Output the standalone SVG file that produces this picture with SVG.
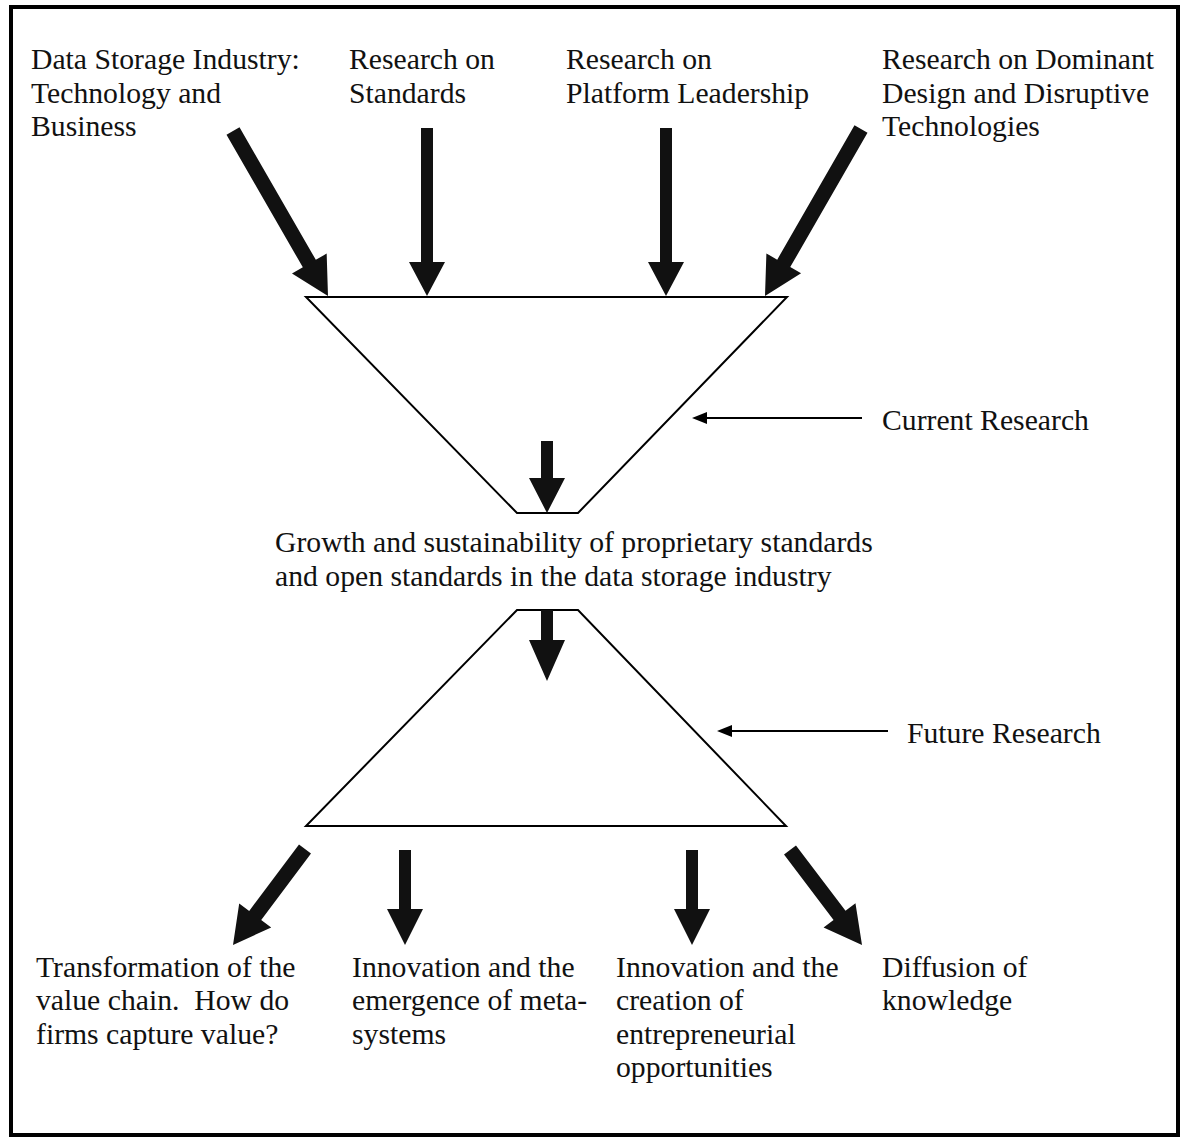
<svg xmlns="http://www.w3.org/2000/svg" width="1183" height="1139" viewBox="0 0 1183 1139">
  <style>
    .frame { fill: #ffffff; stroke: #000000; stroke-width: 4; }
    .funnel { fill: #ffffff; stroke: #000000; stroke-width: 2; stroke-linejoin: miter; }
    .big { fill: #111111; }
    .thin { stroke: #000000; stroke-width: 2; fill: none; }
    .head { fill: #000000; }
    text { font-family: "Liberation Serif", "Times New Roman", serif; font-size: 29.7px; fill: #111111; }
  </style>

  <!-- outer frame -->
  <rect class="frame" x="11" y="7" width="1167" height="1128"/>

  <!-- funnels -->
  <g id="current-funnel">
    <polygon class="funnel" points="306,297 787,297 578,513 517,513"/>
  </g>
  <g id="future-funnel">
    <polygon class="funnel" points="517,610 578,610 786,826 306,826"/>
  </g>

  <!-- block arrows: each drawn along +x, length L, then placed with translate/rotate -->
  <g id="connectors">
    <!-- inputs into current research -->
    <path class="big" d="M0,-7.5 H153 V-20 L190.4,0 L153,20 V7.5 H0 Z" transform="translate(233,131) rotate(60.07)"/>
    <path class="big" d="M0,-6 H134 V-18 L168,0 L134,18 V6 H0 Z" transform="translate(427,128) rotate(90)"/>
    <path class="big" d="M0,-6 H134 V-18 L168,0 L134,18 V6 H0 Z" transform="translate(666,128) rotate(90)"/>
    <path class="big" d="M0,-7.5 H155 V-20 L192.6,0 L155,20 V7.5 H0 Z" transform="translate(861,129) rotate(119.9)"/>

    <!-- through the neck -->
    <path class="big" d="M0,-6 H37 V-18 L72,0 L37,18 V6 H0 Z" transform="translate(547,441) rotate(90)"/>
    <path class="big" d="M0,-6 H30 V-18 L71,0 L30,18 V6 H0 Z" transform="translate(547,610) rotate(90)"/>

    <!-- outputs of future research -->
    <path class="big" d="M0,-7.5 H83 V-20 L120,0 L83,20 V7.5 H0 Z" transform="translate(305,849) rotate(126.87)"/>
    <path class="big" d="M0,-6 H59 V-18 L95,0 L59,18 V6 H0 Z" transform="translate(405,850) rotate(90)"/>
    <path class="big" d="M0,-6 H59 V-18 L95,0 L59,18 V6 H0 Z" transform="translate(692,850) rotate(90)"/>
    <path class="big" d="M0,-7.5 H82 V-20 L119.2,0 L82,20 V7.5 H0 Z" transform="translate(790,850) rotate(52.84)"/>

    <!-- label pointers -->
    <line class="thin" x1="862" y1="418" x2="704" y2="418"/>
    <polygon class="head" points="692,418 707,412 707,424"/>
    <line class="thin" x1="888" y1="731" x2="729" y2="731"/>
    <polygon class="head" points="717,731 732,725 732,737"/>
  </g>

  <!-- input labels -->
  <g id="data-storage">
    <text x="31" y="69">Data Storage Industry:</text>
    <text x="31" y="103">Technology and</text>
    <text x="31" y="136">Business</text>
  </g>
  <g id="standards">
    <text x="349" y="69">Research on</text>
    <text x="349" y="103">Standards</text>
  </g>
  <g id="platform">
    <text x="566" y="69">Research on</text>
    <text x="566" y="103">Platform Leadership</text>
  </g>
  <g id="dominant-design">
    <text x="882" y="69">Research on Dominant</text>
    <text x="882" y="103">Design and Disruptive</text>
    <text x="882" y="136">Technologies</text>
  </g>

  <g id="current-label">
    <text x="882" y="430">Current Research</text>
  </g>

  <g id="core">
    <text x="275" y="552">Growth and sustainability of proprietary standards</text>
    <text x="275" y="586">and open standards in the data storage industry</text>
  </g>

  <g id="future-label">
    <text x="907" y="743">Future Research</text>
  </g>

  <!-- output labels -->
  <g id="value-chain">
    <text x="36" y="977">Transformation of the</text>
    <text x="36" y="1010">value chain.&#160; How do</text>
    <text x="36" y="1044">firms capture value?</text>
  </g>
  <g id="meta-systems">
    <text x="352" y="977">Innovation and the</text>
    <text x="352" y="1010">emergence of meta-</text>
    <text x="352" y="1044">systems</text>
  </g>
  <g id="entrepreneurial">
    <text x="616" y="977">Innovation and the</text>
    <text x="616" y="1010">creation of</text>
    <text x="616" y="1044">entrepreneurial</text>
    <text x="616" y="1077">opportunities</text>
  </g>
  <g id="diffusion">
    <text x="882" y="977">Diffusion of</text>
    <text x="882" y="1010">knowledge</text>
  </g>
</svg>
